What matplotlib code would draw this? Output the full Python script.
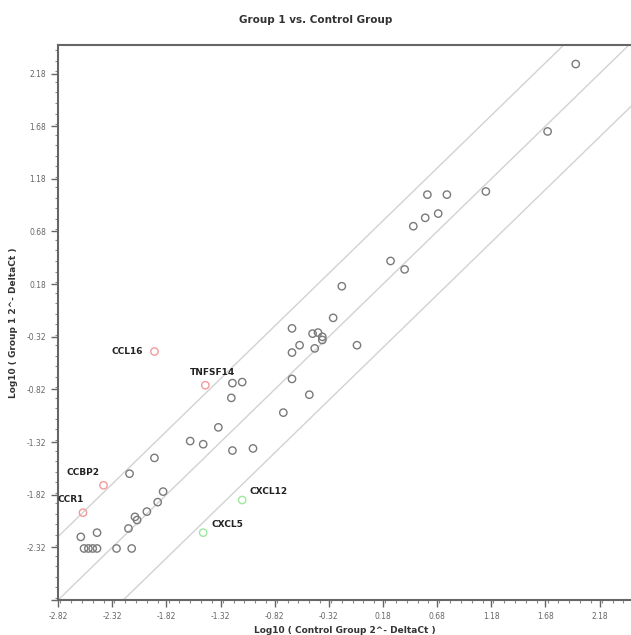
"""Scatter plot of Group 1 vs. Control Group expression (log10 2^-DeltaCt)."""

import numpy as np
import matplotlib.pyplot as plt
from matplotlib.ticker import MultipleLocator

# Unchanged genes (gray)
control_x = [1.96, 1.70, 1.13, 0.59, 0.77, 0.69, 0.57, 0.46, 0.25, 0.38,
             -0.20, -0.28, -0.66, -0.47, -0.42, -0.38, -0.38, -0.59, -0.45,
             -0.66, -0.06, -0.66, -1.12, -1.21, -1.22, -0.50, -0.74, -1.34,
             -1.60, -1.48, -1.21, -1.02, -1.93, -2.16, -1.85, -1.90, -2.00,
             -2.11, -2.09, -2.17, -2.46, -2.61, -2.28, -2.14,
             -2.58, -2.54, -2.50, -2.46]
group1_y = [2.27, 1.63, 1.06, 1.03, 1.03, 0.85, 0.81, 0.73, 0.40, 0.32,
            0.16, -0.14, -0.24, -0.29, -0.28, -0.32, -0.35, -0.40, -0.43,
            -0.47, -0.40, -0.72, -0.75, -0.76, -0.90, -0.87, -1.04, -1.18,
            -1.31, -1.34, -1.40, -1.38, -1.47, -1.62, -1.79, -1.89, -1.98,
            -2.03, -2.06, -2.14, -2.18, -2.22, -2.33, -2.33,
            -2.33, -2.33, -2.33, -2.33]

# Up-regulated genes (red)
up_genes = ["CCL16", "TNFSF14", "CCBP2", "CCR1"]
up_x = [-1.93, -1.46, -2.40, -2.59]
up_y = [-0.46, -0.78, -1.73, -1.99]

# Down-regulated genes (green)
down_genes = ["CXCL12", "CXCL5"]
down_x = [-1.12, -1.48]
down_y = [-1.87, -2.18]

fold_line = np.log10(4)
x_ticks = np.arange(-2.82, 2.2, 0.5)

fig = plt.figure(figsize=(6.31, 6.35), dpi=100)
ax = fig.add_axes([0.092, 0.055, 0.908, 0.874])

# Boundary lines
line_x = np.array([-3.5, 3.0])
for off in (-fold_line, 0, fold_line):
    ax.plot(line_x, line_x + off, color="#d2d2d2", lw=1.0, zorder=1)

ax.scatter(control_x, group1_y, s=28, facecolors="none",
           edgecolors="#7a7a7a", linewidths=1.0, zorder=3)
ax.scatter(up_x, up_y, s=28, facecolors="none",
           edgecolors="#f29a9a", linewidths=1.0, zorder=3)
ax.scatter(down_x, down_y, s=28, facecolors="none",
           edgecolors="#9ee79e", linewidths=1.0, zorder=3)

# Gene labels
label_style = dict(fontsize=6.5, fontweight="bold", color="#222222")
offsets = {
    "CCL16": (-8, 0, "right", "center"),
    "TNFSF14": (5, 6, "center", "bottom"),
    "CCBP2": (-15, 6, "center", "bottom"),
    "CCR1": (-9, 6, "center", "bottom"),
    "CXCL12": (5, 3, "left", "bottom"),
    "CXCL5": (6, 3, "left", "bottom"),
}
for name, x, y in zip(up_genes + down_genes, up_x + down_x, up_y + down_y):
    dx, dy, ha, va = offsets[name]
    ax.annotate(name, (x, y), xytext=(dx, dy), textcoords="offset points",
                ha=ha, va=va, **label_style)

ax.set_xlim(-2.82, 2.47)
ax.set_ylim(-2.82, 2.45)
ax.set_xticks(x_ticks)
ax.set_yticks(x_ticks)
ax.set_xticklabels([f"{v:.2f}" for v in x_ticks])
# the corner label is only shown on the x axis
ax.set_yticklabels([""] + [f"{v:.2f}" for v in x_ticks[1:]])
ax.xaxis.set_minor_locator(MultipleLocator(0.1))
ax.yaxis.set_minor_locator(MultipleLocator(0.1))
ax.tick_params(which="major", length=5, width=1, labelsize=5.5,
               colors="#666666", direction="out")
ax.tick_params(which="minor", length=2.5, width=0.8, colors="#888888")

for side in ("left", "bottom", "top"):
    ax.spines[side].set_color("#666666")
    ax.spines[side].set_linewidth(1.5)
ax.spines["right"].set_visible(False)

ax.set_xlabel("Log10 ( Control Group 2^- DeltaCt )", fontsize=6.5,
              fontweight="bold", color="#333333", labelpad=4)
ax.set_ylabel("Log10 ( Group 1 2^- DeltaCt )", fontsize=6.5,
              fontweight="bold", color="#333333", labelpad=6)
fig.suptitle("Group 1 vs. Control Group", fontsize=7.5, fontweight="bold",
             color="#333333", x=0.5, y=0.977)

fig.savefig("out.png", dpi=100, facecolor="white")
